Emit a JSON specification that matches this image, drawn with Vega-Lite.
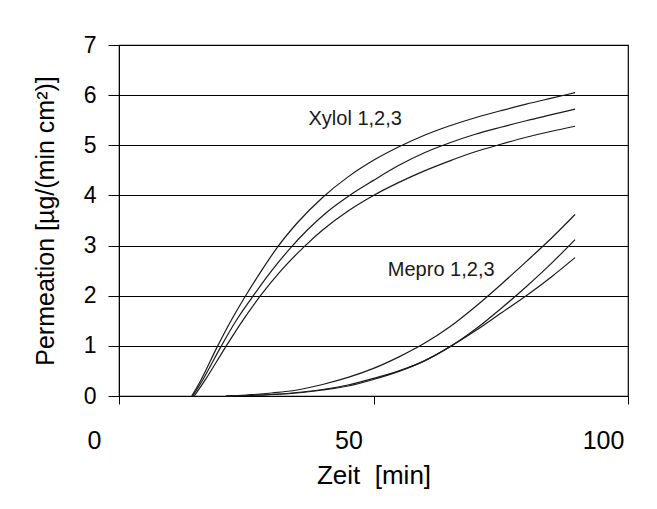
{
  "$schema": "https://vega.github.io/schema/vega-lite/v6.json",
  "width": 509,
  "height": 351,
  "autosize": {"type": "none"},
  "padding": {"left": 119, "top": 45, "right": 29, "bottom": 113},
  "background": "white",
  "config": {
    "font": "Liberation Sans",
    "view": {"stroke": "black", "strokeWidth": 1.2},
    "axis": {
      "domainColor": "black",
      "tickColor": "black",
      "labelColor": "black",
      "titleColor": "black",
      "titleFontWeight": "normal",
      "labelFont": "Liberation Sans",
      "titleFont": "Liberation Sans"
    }
  },
  "datasets": {
    "curves": [
      {"series": "Xylol 1", "t": 14.3, "v": 0},
      {"series": "Xylol 1", "t": 16, "v": 0.3},
      {"series": "Xylol 1", "t": 19.2, "v": 0.96},
      {"series": "Xylol 1", "t": 22, "v": 1.5},
      {"series": "Xylol 1", "t": 25, "v": 2.02},
      {"series": "Xylol 1", "t": 28, "v": 2.5},
      {"series": "Xylol 1", "t": 31, "v": 2.95},
      {"series": "Xylol 1", "t": 35, "v": 3.45},
      {"series": "Xylol 1", "t": 40, "v": 3.96},
      {"series": "Xylol 1", "t": 45, "v": 4.37},
      {"series": "Xylol 1", "t": 50, "v": 4.7},
      {"series": "Xylol 1", "t": 55, "v": 4.97},
      {"series": "Xylol 1", "t": 60, "v": 5.2},
      {"series": "Xylol 1", "t": 65, "v": 5.39},
      {"series": "Xylol 1", "t": 70, "v": 5.55},
      {"series": "Xylol 1", "t": 75, "v": 5.69},
      {"series": "Xylol 1", "t": 80, "v": 5.82},
      {"series": "Xylol 1", "t": 85, "v": 5.94},
      {"series": "Xylol 1", "t": 89.6, "v": 6.05},

      {"series": "Xylol 2", "t": 14.5, "v": 0},
      {"series": "Xylol 2", "t": 16.5, "v": 0.33},
      {"series": "Xylol 2", "t": 20, "v": 0.98},
      {"series": "Xylol 2", "t": 23, "v": 1.5},
      {"series": "Xylol 2", "t": 26.6, "v": 2.03},
      {"series": "Xylol 2", "t": 30, "v": 2.5},
      {"series": "Xylol 2", "t": 33.5, "v": 2.93},
      {"series": "Xylol 2", "t": 37, "v": 3.31},
      {"series": "Xylol 2", "t": 41, "v": 3.68},
      {"series": "Xylol 2", "t": 45, "v": 3.98},
      {"series": "Xylol 2", "t": 50, "v": 4.3},
      {"series": "Xylol 2", "t": 55, "v": 4.6},
      {"series": "Xylol 2", "t": 60, "v": 4.85},
      {"series": "Xylol 2", "t": 65, "v": 5.05},
      {"series": "Xylol 2", "t": 70, "v": 5.22},
      {"series": "Xylol 2", "t": 75, "v": 5.36},
      {"series": "Xylol 2", "t": 80, "v": 5.49},
      {"series": "Xylol 2", "t": 85, "v": 5.61},
      {"series": "Xylol 2", "t": 89.6, "v": 5.72},

      {"series": "Xylol 3", "t": 14.8, "v": 0},
      {"series": "Xylol 3", "t": 17, "v": 0.33},
      {"series": "Xylol 3", "t": 20.9, "v": 0.97},
      {"series": "Xylol 3", "t": 24, "v": 1.46},
      {"series": "Xylol 3", "t": 27.8, "v": 2.0},
      {"series": "Xylol 3", "t": 32, "v": 2.52},
      {"series": "Xylol 3", "t": 36.4, "v": 2.98},
      {"series": "Xylol 3", "t": 40, "v": 3.31},
      {"series": "Xylol 3", "t": 45, "v": 3.69},
      {"series": "Xylol 3", "t": 50, "v": 4.0},
      {"series": "Xylol 3", "t": 55, "v": 4.26},
      {"series": "Xylol 3", "t": 60, "v": 4.49},
      {"series": "Xylol 3", "t": 65, "v": 4.69},
      {"series": "Xylol 3", "t": 70, "v": 4.87},
      {"series": "Xylol 3", "t": 75, "v": 5.02},
      {"series": "Xylol 3", "t": 80, "v": 5.16},
      {"series": "Xylol 3", "t": 85, "v": 5.28},
      {"series": "Xylol 3", "t": 89.6, "v": 5.38},

      {"series": "Mepro 1", "t": 21, "v": 0},
      {"series": "Mepro 1", "t": 25, "v": 0.02},
      {"series": "Mepro 1", "t": 30, "v": 0.06},
      {"series": "Mepro 1", "t": 35, "v": 0.12},
      {"series": "Mepro 1", "t": 40, "v": 0.23},
      {"series": "Mepro 1", "t": 45, "v": 0.37},
      {"series": "Mepro 1", "t": 50, "v": 0.55},
      {"series": "Mepro 1", "t": 55, "v": 0.78},
      {"series": "Mepro 1", "t": 60, "v": 1.05},
      {"series": "Mepro 1", "t": 65, "v": 1.38},
      {"series": "Mepro 1", "t": 70, "v": 1.78},
      {"series": "Mepro 1", "t": 75, "v": 2.22},
      {"series": "Mepro 1", "t": 80, "v": 2.68},
      {"series": "Mepro 1", "t": 85, "v": 3.15},
      {"series": "Mepro 1", "t": 89.6, "v": 3.62},

      {"series": "Mepro 2", "t": 21, "v": 0},
      {"series": "Mepro 2", "t": 25, "v": 0.01},
      {"series": "Mepro 2", "t": 30, "v": 0.03},
      {"series": "Mepro 2", "t": 35, "v": 0.07},
      {"series": "Mepro 2", "t": 40, "v": 0.13},
      {"series": "Mepro 2", "t": 45, "v": 0.22},
      {"series": "Mepro 2", "t": 50, "v": 0.35},
      {"series": "Mepro 2", "t": 55, "v": 0.5},
      {"series": "Mepro 2", "t": 60, "v": 0.7},
      {"series": "Mepro 2", "t": 65, "v": 0.98},
      {"series": "Mepro 2", "t": 70, "v": 1.33},
      {"series": "Mepro 2", "t": 75, "v": 1.74},
      {"series": "Mepro 2", "t": 80, "v": 2.18},
      {"series": "Mepro 2", "t": 85, "v": 2.65},
      {"series": "Mepro 2", "t": 89.6, "v": 3.12},

      {"series": "Mepro 3", "t": 21, "v": 0},
      {"series": "Mepro 3", "t": 25, "v": 0.01},
      {"series": "Mepro 3", "t": 30, "v": 0.03},
      {"series": "Mepro 3", "t": 35, "v": 0.06},
      {"series": "Mepro 3", "t": 40, "v": 0.12},
      {"series": "Mepro 3", "t": 45, "v": 0.2},
      {"series": "Mepro 3", "t": 50, "v": 0.33},
      {"series": "Mepro 3", "t": 55, "v": 0.49},
      {"series": "Mepro 3", "t": 60, "v": 0.7},
      {"series": "Mepro 3", "t": 65, "v": 0.98},
      {"series": "Mepro 3", "t": 70, "v": 1.3},
      {"series": "Mepro 3", "t": 75, "v": 1.65},
      {"series": "Mepro 3", "t": 80, "v": 2.0},
      {"series": "Mepro 3", "t": 85, "v": 2.38},
      {"series": "Mepro 3", "t": 89.6, "v": 2.76}
    ],
    "labels": [
      {"label": "Xylol 1,2,3", "t": 46.4, "v": 5.52},
      {"label": "Mepro 1,2,3", "t": 63.3, "v": 2.51}
    ]
  },
  "layer": [
    {
      "data": {"name": "curves"},
      "mark": {"type": "line", "interpolate": "monotone", "color": "#1a1a1a", "strokeWidth": 1.2},
      "encoding": {
        "x": {
          "field": "t",
          "type": "quantitative",
          "scale": {"domain": [0, 100], "nice": false},
          "axis": {
            "title": "Zeit\u00a0 [min]",
            "titleFontSize": 26,
            "titlePadding": 9,
            "values": [0, 50, 100],
            "grid": false,
            "labelFontSize": 25,
            "labelOffset": -25,
            "labelPadding": 24,
            "tickSize": 8,
            "labelFlush": false
          }
        },
        "y": {
          "field": "v",
          "type": "quantitative",
          "scale": {"domain": [0, 7], "nice": false},
          "axis": {
            "title": "Permeation [µg/(min cm²)]",
            "titleFontSize": 25,
            "titlePadding": 25,
            "values": [0, 1, 2, 3, 4, 5, 6, 7],
            "grid": true,
            "gridColor": "black",
            "gridOpacity": 1,
            "gridWidth": 1.1,
            "labelFontSize": 23,
            "labelPadding": 12,
            "tickSize": 11
          }
        },
        "detail": {"field": "series"}
      }
    },
    {
      "data": {"name": "labels"},
      "mark": {"type": "text", "fontSize": 20, "align": "center", "baseline": "middle", "color": "#1a1a1a", "font": "Liberation Sans"},
      "encoding": {
        "x": {"field": "t", "type": "quantitative"},
        "y": {"field": "v", "type": "quantitative"},
        "text": {"field": "label"}
      }
    }
  ]
}
